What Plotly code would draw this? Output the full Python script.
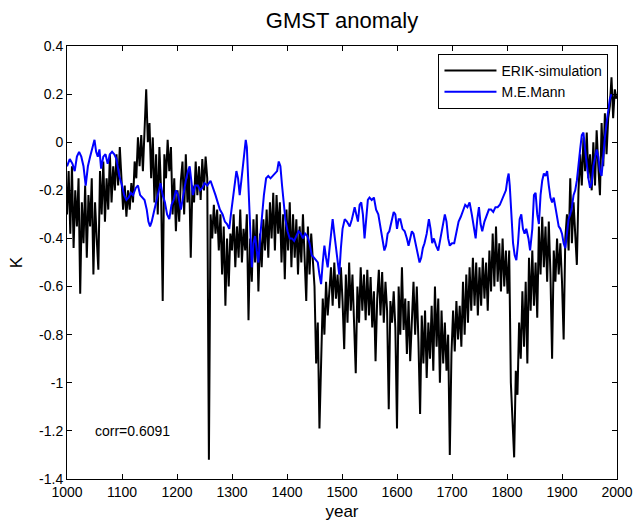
import plotly.graph_objects as go

# ---------------- data ----------------
x_tick_vals = [1000, 1100, 1200, 1300, 1400, 1500, 1600, 1700, 1800, 1900, 2000]
x_tick_text = ["1000", "1100", "1200", "1300", "1400", "1500", "1600", "1700", "1800", "1900", "2000"]
y_tick_vals = [0.4, 0.2, 0, -0.2, -0.4, -0.6, -0.8, -1.0, -1.2, -1.4]
y_tick_text = ["0.4", "0.2", "0", "-0.2", "-0.4", "-0.6", "-0.8", "-1", "-1.2", "-1.4"]

# ERIK simulation, one value every 3 years from 1000 to 1999
erik_years = list(range(1000, 2000, 3))
erik_anomaly = [
    -0.30, -0.12, -0.38, -0.10, -0.44, -0.20, -0.35, -0.15, -0.63, -0.25,  # 1000
    -0.42, -0.18, -0.48, -0.22, -0.35, -0.15, -0.55, -0.25, -0.40, -0.53,  # 1030
    -0.12, -0.30, -0.08, -0.33, -0.15, -0.28, -0.05, -0.25, -0.10, -0.20,  # 1060
    -0.05, -0.18, -0.02, -0.15, -0.28, -0.18, -0.31, -0.20, -0.28, -0.17,  # 1090
    -0.25, -0.08, -0.15, 0.02, -0.10, 0.03, -0.12, 0.05, 0.22, 0.00,       # 1120
    0.08, -0.15, 0.02, -0.25, -0.05, -0.30, -0.02, -0.20, -0.66, -0.05,    # 1150
    -0.15, 0.01, -0.12, -0.02, -0.30, -0.15, -0.37, -0.20, -0.33, -0.16,   # 1180
    -0.08, -0.30, -0.05, -0.25, -0.12, -0.48, -0.18, -0.25, -0.08, -0.22,  # 1210
    -0.10, -0.24, -0.07, -0.20, -0.06, -0.15, -1.32, -0.30, -0.40, -0.26,  # 1240
    -0.38, -0.28, -0.45, -0.30, -0.55, -0.35, -0.68, -0.40, -0.60, -0.38,  # 1270
    -0.45, -0.30, -0.52, -0.35, -0.48, -0.28, -0.50, -0.36, -0.45, -0.30,  # 1300
    -0.74, -0.40, -0.58, -0.32, -0.50, -0.30, -0.62, -0.38, -0.52, -0.32,  # 1330
    -0.45, -0.28, -0.48, -0.25, -0.40, -0.21, -0.45, -0.22, -0.38, -0.25,  # 1360
    -0.50, -0.30, -0.57, -0.28, -0.45, -0.25, -0.52, -0.30, -0.48, -0.32,  # 1390
    -0.55, -0.35, -0.50, -0.30, -0.45, -0.66, -0.35, -0.55, -0.38, -0.50,  # 1420
    -0.60, -0.92, -0.75, -1.19, -0.95, -0.65, -0.80, -0.58, -0.72, -0.60,  # 1450
    -0.52, -0.68, -0.50, -0.65, -0.55, -0.69, -0.52, -0.66, -0.86, -0.55,  # 1480
    -0.75, -0.50, -0.70, -0.55, -0.79, -0.96, -0.60, -0.75, -0.52, -0.70,  # 1510
    -0.55, -0.74, -0.53, -0.72, -0.56, -0.77, -0.62, -0.91, -0.65, -0.53,  # 1540
    -0.72, -0.54, -0.75, -0.58, -0.70, -1.11, -0.66, -0.75, -0.62, -0.77,  # 1570
    -1.19, -0.60, -0.80, -0.52, -0.78, -0.65, -0.88, -0.66, -0.91, -0.70,  # 1600
    -0.58, -0.80, -0.60, -0.83, -1.13, -0.72, -0.92, -0.70, -0.98, -0.75,  # 1630
    -0.90, -0.68, -0.95, -0.60, -0.85, -0.65, -1.00, -0.70, -0.92, -0.75,  # 1660
    -0.95, -0.80, -1.30, -0.88, -0.70, -0.87, -0.66, -0.82, -0.68, -0.85,  # 1690
    -0.58, -0.80, -0.55, -0.75, -0.52, -0.70, -0.48, -0.68, -0.50, -0.72,  # 1720
    -0.52, -0.68, -0.48, -0.65, -0.50, -0.70, -0.45, -0.62, -0.38, -0.60,  # 1750
    -0.35, -0.58, -0.42, -0.62, -0.40, -0.60, -0.45, -0.63, -0.45, -1.00,  # 1780
    -1.20, -1.31, -0.95, -1.05, -0.75, -0.90, -0.62, -0.85, -0.58, -0.92,  # 1810
    -0.48, -0.70, -0.45, -0.68, -0.50, -0.73, -0.35, -0.55, -0.31, -0.52,  # 1840
    -0.35, -0.58, -0.33, -0.55, -0.90, -0.45, -0.58, -0.40, -0.55, -0.42,  # 1870
    -0.58, -0.82, -0.40, -0.30, -0.45, -0.15, -0.42, -0.25, -0.38, -0.51,  # 1900
    -0.20, -0.05, -0.18, 0.02, -0.12, 0.04, -0.15, -0.05, -0.20, 0.00,     # 1930
    -0.18, 0.05, -0.10, -0.22, 0.08, -0.10, 0.12, -0.05, 0.10, 0.15,       # 1960
    0.27, 0.10, 0.22, 0.18,                                                # 1990
]

# M.E. Mann reconstruction
mann_years = [
    1000, 1005, 1010, 1014, 1018, 1022, 1026, 1030, 1034, 1038, 1042, 1046, 1050, 1053, 1056, 1059,
    1062, 1066, 1070, 1074, 1078, 1082, 1086, 1090, 1095, 1100, 1104, 1108, 1112, 1116, 1120, 1125,
    1129, 1133, 1137, 1141, 1145, 1148, 1151, 1154, 1158, 1162, 1166, 1170, 1174, 1178, 1182, 1186,
    1190, 1194, 1198, 1202, 1207, 1211, 1216, 1220, 1223, 1226, 1229, 1233, 1238, 1242, 1246, 1250,
    1255, 1261, 1266, 1270, 1274, 1278, 1283, 1287, 1291, 1295, 1298, 1301, 1305, 1308, 1311, 1314,
    1317, 1320, 1323, 1325, 1327, 1330, 1333, 1336, 1339, 1342, 1345, 1348, 1351, 1354, 1358, 1362,
    1366, 1370, 1374, 1378, 1382, 1385, 1388, 1391, 1394, 1397, 1401, 1405, 1409, 1413, 1417, 1421,
    1425, 1429, 1433, 1437, 1441, 1445, 1449, 1453, 1456, 1459, 1462, 1465, 1468, 1471, 1474, 1477,
    1480, 1483, 1486, 1489, 1492, 1495, 1498, 1501, 1505, 1509, 1514, 1518, 1523, 1526, 1529, 1532,
    1535, 1538, 1541, 1544, 1547, 1550, 1554, 1558, 1562, 1566, 1569, 1573, 1577, 1580, 1583, 1586,
    1590, 1594, 1597, 1600, 1603, 1606, 1610, 1614, 1618, 1621, 1624, 1627, 1630, 1634, 1638, 1641,
    1644, 1647, 1650, 1654, 1658, 1661, 1664, 1667, 1671, 1675, 1679, 1683, 1687, 1690, 1693, 1696,
    1700, 1704, 1708, 1712, 1716, 1720, 1724, 1728, 1732, 1736, 1740, 1743, 1746, 1749, 1752, 1755,
    1759, 1763, 1767, 1771, 1775, 1779, 1783, 1787, 1791, 1795, 1798, 1801, 1803, 1805, 1808, 1811,
    1814, 1817, 1820, 1823, 1826, 1829, 1832, 1835, 1839, 1842, 1846, 1849, 1852, 1855, 1858, 1861,
    1864, 1867, 1870, 1873, 1876, 1879, 1882, 1885, 1888, 1891, 1894, 1897, 1900, 1903, 1906, 1909,
    1912, 1915, 1918, 1921, 1924, 1927, 1930, 1933, 1936, 1939, 1942, 1945, 1948, 1951, 1954, 1957,
    1960, 1963, 1966, 1969, 1972, 1975, 1978, 1981, 1984, 1987, 1990,
]
mann_anomaly = [
    -0.10, -0.07, -0.09, -0.12, -0.06, -0.04, -0.06, -0.10, -0.18, -0.10, -0.06, -0.03, 0.01, -0.04, -0.06, -0.03,
    -0.11, -0.06, -0.05, -0.09, -0.05, -0.04, -0.05, -0.07, -0.14, -0.18, -0.22, -0.24, -0.23, -0.21, -0.22, -0.19,
    -0.18, -0.22, -0.23, -0.24, -0.28, -0.33, -0.35, -0.33, -0.29, -0.25, -0.20, -0.17, -0.22, -0.25, -0.30, -0.32,
    -0.26, -0.24, -0.20, -0.22, -0.28, -0.22, -0.16, -0.12, -0.10, -0.16, -0.22, -0.18, -0.18, -0.20, -0.19, -0.17,
    -0.18, -0.16, -0.19, -0.22, -0.25, -0.28, -0.30, -0.33, -0.34, -0.36, -0.30, -0.25, -0.18, -0.12, -0.15, -0.22,
    -0.16, -0.10, -0.05, 0.01, -0.02, -0.20, -0.40, -0.52, -0.42, -0.39, -0.45, -0.50, -0.40, -0.32, -0.22, -0.15,
    -0.14, -0.15, -0.14, -0.13, -0.12, -0.08, -0.10, -0.18, -0.26, -0.32, -0.37, -0.40, -0.40, -0.41, -0.39, -0.37,
    -0.38, -0.40, -0.38, -0.39, -0.42, -0.47, -0.48, -0.49, -0.50, -0.55, -0.59, -0.50, -0.43, -0.48, -0.52, -0.45,
    -0.38, -0.32, -0.38, -0.44, -0.48, -0.55, -0.44, -0.36, -0.32, -0.33, -0.35, -0.32, -0.27, -0.30, -0.33, -0.26,
    -0.25, -0.30, -0.40, -0.32, -0.24, -0.23, -0.24, -0.23, -0.28, -0.30, -0.34, -0.40, -0.45, -0.43, -0.38, -0.37,
    -0.33, -0.29, -0.30, -0.36, -0.32, -0.32, -0.36, -0.37, -0.40, -0.43, -0.40, -0.37, -0.38, -0.42, -0.47, -0.50,
    -0.48, -0.44, -0.42, -0.38, -0.32, -0.36, -0.42, -0.40, -0.43, -0.45, -0.40, -0.34, -0.30, -0.33, -0.40, -0.43,
    -0.42, -0.42, -0.38, -0.33, -0.31, -0.28, -0.26, -0.27, -0.25, -0.30, -0.36, -0.40, -0.32, -0.27, -0.34, -0.37,
    -0.33, -0.30, -0.28, -0.28, -0.29, -0.27, -0.27, -0.26, -0.24, -0.22, -0.20, -0.15, -0.13, -0.18, -0.32, -0.42,
    -0.47, -0.49, -0.42, -0.32, -0.30, -0.36, -0.38, -0.36, -0.40, -0.45, -0.36, -0.22, -0.21, -0.30, -0.34, -0.22,
    -0.16, -0.13, -0.14, -0.12, -0.18, -0.23, -0.25, -0.23, -0.27, -0.31, -0.35, -0.36, -0.38, -0.42, -0.44, -0.38,
    -0.32, -0.30, -0.27, -0.22, -0.20, -0.16, -0.08, -0.03, 0.03, 0.04, -0.03, -0.10, -0.15, -0.19, -0.17, -0.10,
    -0.06, -0.03, -0.06, -0.12, -0.14, -0.05, 0.02, 0.08, 0.14, 0.18, 0.20,
]

series_names = ["ERIK-simulation", "M.E.Mann"]
corr_text = "corr=0.6091"

# ---------------- figure ----------------
fig = go.Figure()
fig.add_trace(go.Scatter(x=erik_years, y=erik_anomaly, mode="lines", name=series_names[0],
                         line=dict(color="#000000", width=2)))
fig.add_trace(go.Scatter(x=mann_years, y=mann_anomaly, mode="lines", name=series_names[1],
                         line=dict(color="#0000FF", width=2)))

axis_common = dict(showline=True, linecolor="black", linewidth=1, mirror="ticks",
                   ticks="inside", ticklen=5, tickcolor="black", showgrid=False,
                   zeroline=False, automargin=False, tickfont=dict(size=14, color="black"))

fig.update_xaxes(range=[1000, 2000], tickmode="array", tickvals=x_tick_vals, ticktext=x_tick_text,
                 title=dict(text="year", font=dict(size=17), standoff=6), **axis_common)
fig.update_yaxes(range=[-1.4, 0.4], tickmode="array", tickvals=y_tick_vals, ticktext=y_tick_text,
                 title=dict(text="K", font=dict(size=17), standoff=12), **axis_common)

fig.add_annotation(x=1048, y=-1.2, xref="x", yref="y", text=corr_text, showarrow=False,
                   xanchor="left", yanchor="middle", font=dict(size=14, color="black"))

fig.update_layout(
    autosize=False,
    width=633, height=522,
    margin=dict(l=67, r=16, t=46, b=43),
    paper_bgcolor="white", plot_bgcolor="white",
    font=dict(family="Liberation Sans, Arial, sans-serif", size=14, color="black"),
    title=dict(text="GMST anomaly", x=0.5, xref="paper", xanchor="center",
               y=1 - 20 / 522, yref="container", yanchor="middle",
               font=dict(size=22, color="black")),
    showlegend=True,
    legend=dict(x=0.9845, y=0.9815, xanchor="right", yanchor="top", bgcolor="white",
                bordercolor="black", borderwidth=1, font=dict(size=14),
                itemwidth=52, tracegroupgap=0),
)

fig.write_html("out.html",
               config={"displayModeBar": False, "responsive": False},
               post_script="document.body.style.margin='0';document.body.style.overflow='hidden';")
